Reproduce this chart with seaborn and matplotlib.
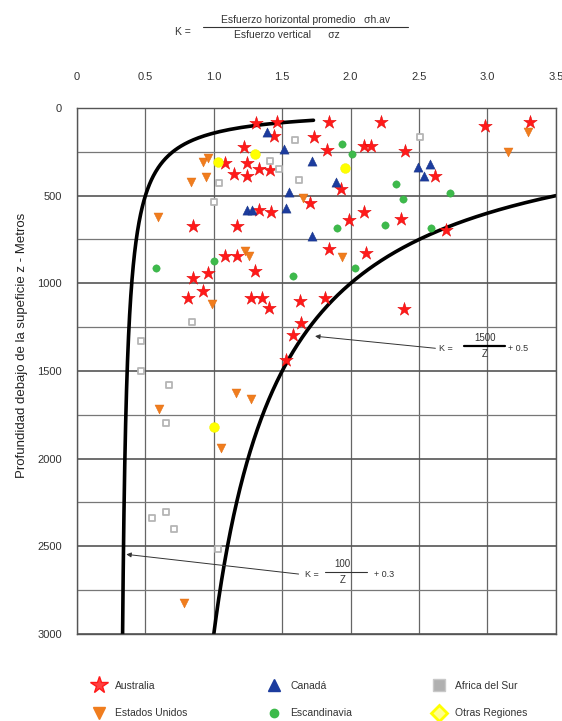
import numpy as np
import pandas as pd
import matplotlib.pyplot as plt
import seaborn as sns
from matplotlib.lines import Line2D

sns.set_style("white")
plt.rcParams['font.family'] = ['Liberation Sans', 'DejaVu Sans']

# Datos: K = sigma_h / sigma_z  y profundidad z (m)
australia_k = [1.31, 1.46, 1.44, 1.22, 1.08, 1.24, 1.33, 1.41, 1.15, 1.24,
               1.33, 1.42, 0.85, 1.17, 1.08, 1.17, 1.30, 0.85, 0.96, 0.81,
               0.92, 1.27, 1.35, 1.40, 1.63, 1.64, 1.58, 1.53, 1.84, 2.22,
               1.73, 1.83, 2.10, 2.15, 2.40, 2.98, 3.31, 2.62, 1.93, 1.70,
               1.99, 2.10, 2.37, 2.70, 1.84, 2.11, 1.81, 2.39]
australia_z = [87, 82, 160, 224, 315, 315, 348, 354, 376, 388,
               582, 591, 673, 673, 842, 842, 930, 971, 943, 1085,
               1042, 1085, 1085, 1142, 1099, 1228, 1295, 1437, 82, 82,
               164, 240, 217, 217, 244, 103, 82, 388, 464, 544,
               639, 591, 635, 696, 806, 829, 1085, 1148]

eeuu_k = [0.92, 0.96, 0.83, 0.94, 0.59, 1.23, 1.26, 1.65, 3.30, 3.15,
          1.94, 0.99, 1.16, 1.27, 0.60, 1.05, 0.78]
eeuu_z = [306, 287, 420, 392, 623, 814, 842, 512, 135, 249,
          848, 1118, 1624, 1661, 1718, 1937, 2825]

canada_k = [1.39, 1.51, 1.55, 1.24, 1.28, 1.53, 1.72, 1.72, 1.89, 2.49, 2.58, 2.54]
canada_z = [139, 234, 477, 582, 582, 572, 302, 728, 420, 338, 319, 386]

escandinavia_k = [0.58, 1.00, 1.58, 1.94, 2.01, 2.33, 2.38, 2.73, 1.90, 2.25, 2.59, 2.03]
escandinavia_z = [914, 873, 956, 205, 264, 433, 519, 483, 683, 667, 683, 914]

africa_k = [1.59, 1.41, 1.48, 1.62, 1.04, 1.00, 2.51, 0.84, 0.47, 0.47,
            0.67, 0.65, 0.55, 0.65, 0.71, 1.03]
africa_z = [182, 302, 348, 411, 426, 538, 164, 1222, 1329, 1498,
            1580, 1798, 2340, 2306, 2401, 2515]

otras_k = [1.30, 1.03, 1.96, 1.00]
otras_z = [264, 306, 344, 1818]

# curvas limite K = a / z + b
lim_inf = (100, 0.3)
lim_sup = (1500, 0.5)

x_ticks = [0, 0.5, 1.0, 1.5, 2.0, 2.5, 3.0, 3.5]
x_labels = ["0", "0.5", "1.0", "1.5", "2.0", "2.5", "3.0", "3.5"]
y_ticks = [0, 500, 1000, 1500, 2000, 2500, 3000]

grupos = {
    "Australia": (australia_k, australia_z),
    "Estados Unidos": (eeuu_k, eeuu_z),
    "Canadá": (canada_k, canada_z),
    "Escandinavia": (escandinavia_k, escandinavia_z),
    "Africa del Sur": (africa_k, africa_z),
    "Otras Regiones": (otras_k, otras_z),
}
estilos = {
    "Australia": dict(marker="*", s=105, color="#ff1a1a", edgecolor="#e00000", linewidth=0.3),
    "Estados Unidos": dict(marker="v", s=42, color="#f07d1e", edgecolor="#e06a10", linewidth=0.3),
    "Canadá": dict(marker="^", s=44, color="#1c3c9e", edgecolor="#14307f", linewidth=0.3),
    "Escandinavia": dict(marker="o", s=28, color="#3dba4b", edgecolor="#32a83f", linewidth=0.3),
    "Africa del Sur": dict(marker="s", s=22, color="white", edgecolor="#b5b5b5", linewidth=1.3),
    "Otras Regiones": dict(marker="o", s=50, color="#ffff00", edgecolor="#f0f000", linewidth=0.3),
}

fig = plt.figure(figsize=(5.62, 7.21), dpi=100)
ax = fig.add_axes([0.137, 0.1207, 0.852, 0.7295])

# grilla
for xv in x_ticks:
    ax.axvline(xv, color="#666666", lw=0.9, zorder=1)
for yv in range(0, 3001, 250):
    ax.axhline(yv, color="#555555" if yv % 500 == 0 else "#777777",
               lw=1.2 if yv % 500 == 0 else 0.9, zorder=1)

# curvas
z1 = np.linspace(70, 3000, 500)
z2 = np.linspace(500, 3000, 500)
sns.lineplot(x=lim_inf[0] / z1 + lim_inf[1], y=z1, sort=False, estimator=None,
             color="black", lw=2.6, ax=ax, zorder=2)
sns.lineplot(x=lim_sup[0] / z2 + lim_sup[1], y=z2, sort=False, estimator=None,
             color="black", lw=2.6, ax=ax, zorder=2)

for nombre, (k, z) in grupos.items():
    df = pd.DataFrame({"K": k, "z": z})
    sns.scatterplot(data=df, x="K", y="z", ax=ax, zorder=3, legend=False,
                    **estilos[nombre])

ax.set_xlim(0, 3.5)
ax.set_ylim(3000, 0)
ax.xaxis.tick_top()
ax.set_xticks(x_ticks)
ax.set_xticklabels(x_labels)
ax.set_yticks(y_ticks)
ax.tick_params(axis="x", length=0, pad=19, labelsize=8, labelcolor="#333333")
ax.tick_params(axis="y", length=0, pad=11, labelsize=8, labelcolor="#333333")
ax.set_xlabel("")
ax.set_ylabel("")
for sp in ax.spines.values():
    sp.set_color("#555555")
    sp.set_linewidth(1.0)

# anotaciones de las curvas
ax.annotate("", xy=(1.72, 1300), xytext=(2.64, 1372),
            arrowprops=dict(arrowstyle="-|>", color="#333333", lw=0.7, mutation_scale=7))
ax.text(2.70, 1372, "K =", fontsize=6.5, va="center", ha="center", color="#333333")
ax.plot([2.83, 3.13], [1355, 1355], color="black", lw=1.6, zorder=4)
ax.text(2.98, 1340, "1500", fontsize=7, va="bottom", ha="center", color="#333333")
ax.text(2.98, 1375, "Z", fontsize=7, va="top", ha="center", color="#333333")
ax.text(3.15, 1372, "+ 0.5", fontsize=6.5, va="center", ha="left", color="#333333")

ax.annotate("", xy=(0.34, 2544), xytext=(1.64, 2660),
            arrowprops=dict(arrowstyle="-|>", color="#333333", lw=0.7, mutation_scale=7))
ax.text(1.72, 2660, "K =", fontsize=6.5, va="center", ha="center", color="#333333")
ax.plot([1.81, 2.12], [2648, 2648], color="#333333", lw=0.8, zorder=4)
ax.text(1.94, 2630, "100", fontsize=7, va="bottom", ha="center", color="#333333")
ax.text(1.94, 2665, "Z", fontsize=7, va="top", ha="center", color="#333333")
ax.text(2.17, 2660, "+ 0.3", fontsize=6.5, va="center", ha="left", color="#333333")

# titulo en forma de fraccion
fig.text(183 / 562, 1 - 32 / 721, "K =", fontsize=7.5, ha="center", va="center", color="#333333")
fig.add_artist(Line2D([203 / 562, 408 / 562], [1 - 27 / 721, 1 - 27 / 721],
                      color="#333333", lw=0.8))
fig.text(306 / 562, 1 - 25 / 721, "Esfuerzo horizontal promedio   σh.av", fontsize=7.5,
         ha="center", va="bottom", color="#333333")
fig.text(287 / 562, 1 - 30 / 721, "Esfuerzo vertical      σz", fontsize=7.5,
         ha="center", va="top", color="#333333")

fig.text(22 / 562, 1 - 345 / 721, "Profundidad debajo de la supeficie z - Metros",
         rotation=90, fontsize=9.5, ha="center", va="center", color="#222222")

# leyenda
orden = ["Australia", "Estados Unidos", "Canadá", "Escandinavia", "Africa del Sur", "Otras Regiones"]
handles = [
    Line2D([], [], ls="", marker="*", ms=13, mfc="#ff4040", mec="#ff1a1a"),
    Line2D([], [], ls="", marker="v", ms=8, mfc="#f07d1e", mec="#f07d1e"),
    Line2D([], [], ls="", marker="^", ms=8, mfc="#1c3c9e", mec="#1c3c9e"),
    Line2D([], [], ls="", marker="o", ms=6, mfc="#3dba4b", mec="#3dba4b"),
    Line2D([], [], ls="", marker="s", ms=8, mfc="#b0b0b0", mec="#c8c8c8"),
    Line2D([], [], ls="", marker="D", ms=8, mfc="#ffff90", mec="#ffff00", mew=2),
]
fig.legend(handles, orden, ncol=3, loc="upper left", bbox_to_anchor=(0.145, 0.069),
           frameon=False, fontsize=7.5, columnspacing=7.6, handletextpad=0.8,
           labelspacing=1.7, handlelength=1.5, labelcolor="#333333")

fig.savefig("out.png", dpi=100)
